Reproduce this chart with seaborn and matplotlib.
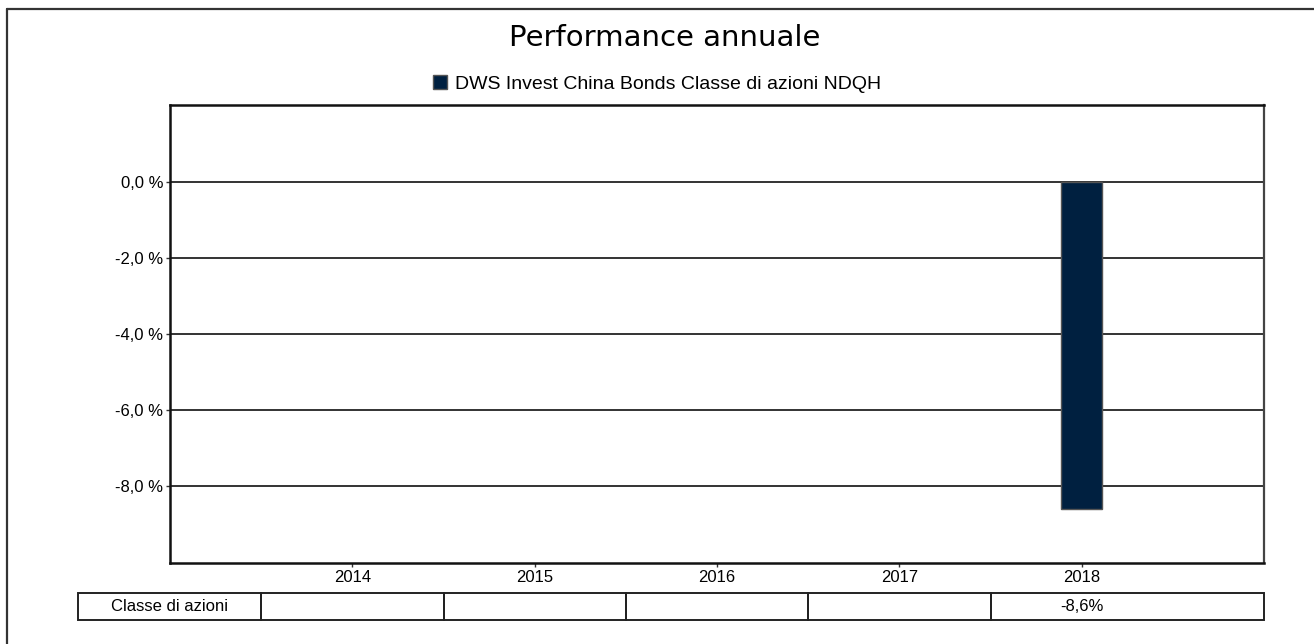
import seaborn as sns
import numpy as np
import pandas as pd
import matplotlib.pyplot as plt
from matplotlib.patches import Rectangle
from matplotlib.lines import Line2D

years = ["2014", "2015", "2016", "2017", "2018"]
perf = [np.nan, np.nan, np.nan, np.nan, -8.6]
table_labels = ["", "", "", "", "-8,6%"]
series_name = "DWS Invest China Bonds Classe di azioni NDQH"
row_name = "Classe di azioni"
title = "Performance annuale"
y_ticks = [0, -2, -4, -6, -8]

sns.set_style("white")
plt.rcParams["font.family"] = ["Liberation Sans", "DejaVu Sans"]
plt.rcParams["text.color"] = "black"
plt.rcParams["xtick.color"] = "black"
plt.rcParams["ytick.color"] = "black"

df = pd.DataFrame({"year": years, "perf": perf})

fig = plt.figure(figsize=(13.14, 6.44), dpi=100)
ax = fig.add_axes([0.1294, 0.1258, 0.8326, 0.7112])

sns.barplot(data=df, x="year", y="perf", order=years, color="#002040",
            saturation=1, width=0.225, edgecolor="#555555", linewidth=1,
            label=series_name, ax=ax, zorder=3)

ax.set_xlim(-1, 5)
ax.set_ylim(-10.03, 2.03)
ax.set_yticks(y_ticks)
ax.set_yticklabels([f"{v:.1f} %".replace(".", ",") for v in y_ticks], fontsize=12)
ax.set_xticks(range(len(years)))
ax.set_xticklabels(years, fontsize=12)
ax.set_xlabel("")
ax.set_ylabel("")
for v in y_ticks:
    ax.axhline(v, color="#333333", lw=1.4, zorder=2)
ax.tick_params(axis="both", which="both", length=3, width=1, color="#333333",
               labelcolor="black", direction="out", pad=2, left=True, bottom=True)
for side in ["left", "bottom", "top"]:
    ax.spines[side].set_color("#111111")
    ax.spines[side].set_linewidth(1.8)
ax.spines["right"].set_color("#444444")
ax.spines["right"].set_linewidth(1.6)

# legend
leg = ax.legend(loc="center", bbox_to_anchor=(0.5, 1 - 84 / 644), bbox_transform=fig.transFigure,
                frameon=False, fontsize=14, handlelength=0.75, handleheight=0.75,
                handletextpad=0.4)
for t in leg.get_texts():
    t.set_color("black")

fig.text(0.506, 1 - 38 / 644, title, ha="center", va="center", fontsize=21,
         family="DejaVu Sans", color="black")

# table under the chart
trans = ax.get_xaxis_transform()
y0 = (563 - 620) / 458
y1 = (563 - 593) / 458
edges = [-1.505, -0.5, 0.5, 1.5, 2.5, 3.5, 5.0]
for i in range(len(edges) - 1):
    ax.add_patch(Rectangle((edges[i], y0), edges[i + 1] - edges[i], y1 - y0,
                           transform=trans, fill=False, edgecolor="#222222",
                           lw=1.4, clip_on=False))
ax.text((edges[0] + edges[1]) / 2, (y0 + y1) / 2, row_name, transform=trans,
        ha="center", va="center", fontsize=12, color="black")
for i, lab in enumerate(table_labels):
    ax.text(i, (y0 + y1) / 2, lab, transform=trans, ha="center", va="center",
            fontsize=12, color="black")

# outer frame
fig.add_artist(Line2D([7 / 1314, 7 / 1314], [0, 1 - 9 / 644], color="#333333", lw=1.6,
                      transform=fig.transFigure))
fig.add_artist(Line2D([7 / 1314, 1], [1 - 9 / 644, 1 - 9 / 644], color="#333333", lw=1.6,
                      transform=fig.transFigure))

fig.savefig("out.png", dpi=100)
